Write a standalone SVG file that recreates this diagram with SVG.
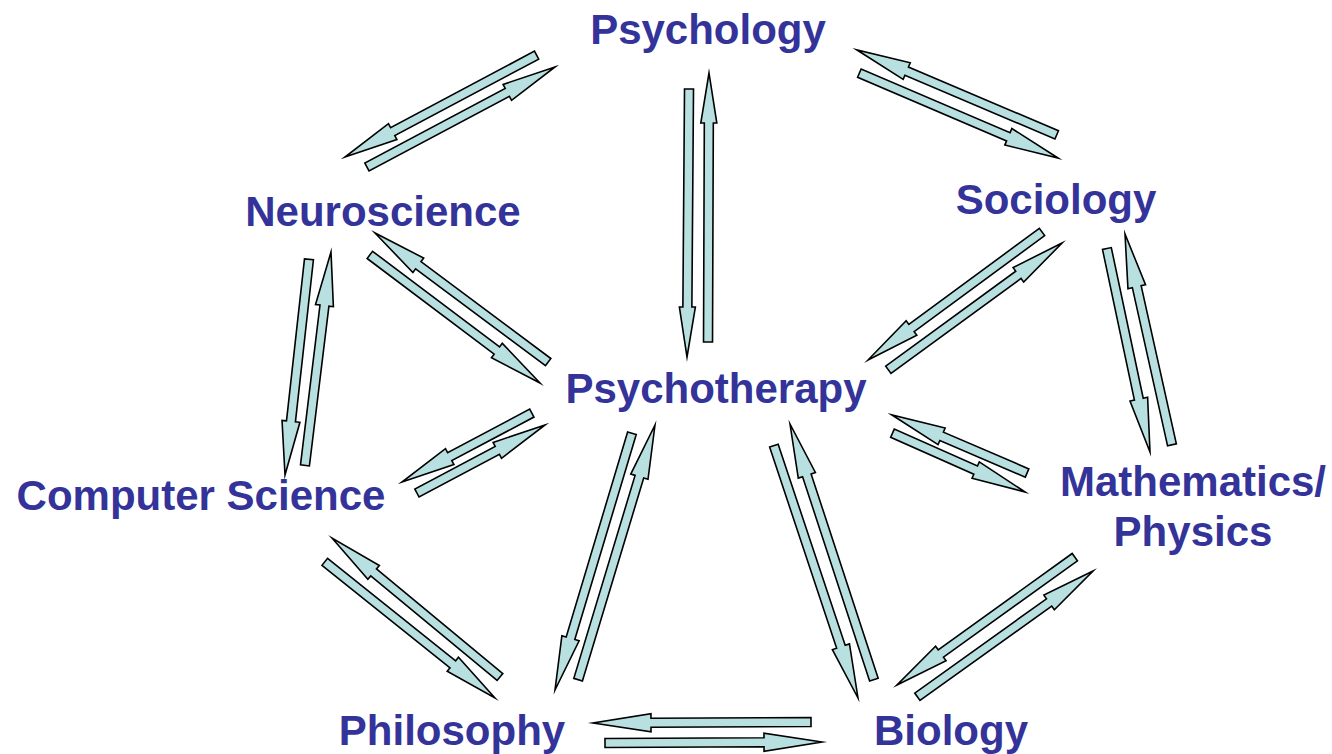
<svg xmlns="http://www.w3.org/2000/svg" width="1332" height="754" viewBox="0 0 1332 754">
<style>
.arr{fill:#b9e0e0;stroke:#000;stroke-width:1.6;stroke-linejoin:miter;stroke-miterlimit:10}
.lbl{font-family:"Liberation Sans",Arial,sans-serif;font-weight:bold;font-size:42px;fill:#333399;text-anchor:middle}
</style>
<rect width="1332" height="754" fill="#fff"/>
<g id="connectors">
<polygon class="arr" transform="translate(345,157) rotate(152.0)" points="0,0 -54,-9 -54,-4.5 -217,-4.5 -217,4.5 -54,4.5 -54,9"/>
<polygon class="arr" transform="translate(555,67) rotate(-28.0)" points="0,0 -54,-9 -54,-4.5 -213,-4.5 -213,4.5 -54,4.5 -54,9"/>
<polygon class="arr" transform="translate(687,357) rotate(90.43)" points="0,0 -50,-8 -50,-4.5 -268,-4.5 -268,4.5 -50,4.5 -50,8"/>
<polygon class="arr" transform="translate(709,73) rotate(-89.79)" points="0,0 -50,-8 -50,-4.5 -269,-4.5 -269,4.5 -50,4.5 -50,8"/>
<polygon class="arr" transform="translate(857,50) rotate(-156.97)" points="0,0 -54,-9 -54,-4.5 -217,-4.5 -217,4.5 -54,4.5 -54,9"/>
<polygon class="arr" transform="translate(1058,158) rotate(23.13)" points="0,0 -54,-9 -54,-4.5 -216,-4.5 -216,4.5 -54,4.5 -54,9"/>
<polygon class="arr" transform="translate(375,233) rotate(-143.29)" points="0,0 -54,-9 -54,-4.5 -216,-4.5 -216,4.5 -54,4.5 -54,9"/>
<polygon class="arr" transform="translate(540,383) rotate(36.98)" points="0,0 -54,-9 -54,-4.5 -213,-4.5 -213,4.5 -54,4.5 -54,9"/>
<polygon class="arr" transform="translate(285,475) rotate(96.34)" points="0,0 -54,-9 -54,-4.5 -217,-4.5 -217,4.5 -54,4.5 -54,9"/>
<polygon class="arr" transform="translate(331,252) rotate(-83.04)" points="0,0 -54,-9 -54,-4.5 -215,-4.5 -215,4.5 -54,4.5 -54,9"/>
<polygon class="arr" transform="translate(868,360) rotate(143.66)" points="0,0 -54,-9 -54,-4.5 -216,-4.5 -216,4.5 -54,4.5 -54,9"/>
<polygon class="arr" transform="translate(1062,243) rotate(-36.13)" points="0,0 -54,-9 -54,-4.5 -215,-4.5 -215,4.5 -54,4.5 -54,9"/>
<polygon class="arr" transform="translate(1150,452) rotate(78.04)" points="0,0 -54,-9 -54,-4.5 -208,-4.5 -208,4.5 -54,4.5 -54,9"/>
<polygon class="arr" transform="translate(1125,234) rotate(-102.56)" points="0,0 -54,-9 -54,-4.5 -216,-4.5 -216,4.5 -54,4.5 -54,9"/>
<polygon class="arr" transform="translate(892,415) rotate(-156.75)" points="0,0 -54,-9 -54,-4.5 -147,-4.5 -147,4.5 -54,4.5 -54,9"/>
<polygon class="arr" transform="translate(1025,492) rotate(23.92)" points="0,0 -54,-9 -54,-4.5 -145,-4.5 -145,4.5 -54,4.5 -54,9"/>
<polygon class="arr" transform="translate(402,482) rotate(152.04)" points="0,0 -54,-9 -54,-4.5 -147,-4.5 -147,4.5 -54,4.5 -54,9"/>
<polygon class="arr" transform="translate(545,425) rotate(-27.98)" points="0,0 -54,-9 -54,-4.5 -145,-4.5 -145,4.5 -54,4.5 -54,9"/>
<polygon class="arr" transform="translate(332,538) rotate(-140.39)" points="0,0 -54,-9 -54,-4.5 -218,-4.5 -218,4.5 -54,4.5 -54,9"/>
<polygon class="arr" transform="translate(495,698) rotate(38.66)" points="0,0 -54,-9 -54,-4.5 -218,-4.5 -218,4.5 -54,4.5 -54,9"/>
<polygon class="arr" transform="translate(555,690) rotate(106.68)" points="0,0 -54,-9 -54,-4.5 -268,-4.5 -268,4.5 -54,4.5 -54,9"/>
<polygon class="arr" transform="translate(655,425) rotate(-73.2)" points="0,0 -54,-9 -54,-4.5 -266,-4.5 -266,4.5 -54,4.5 -54,9"/>
<polygon class="arr" transform="translate(858,698) rotate(71.57)" points="0,0 -54,-9 -54,-4.5 -266,-4.5 -266,4.5 -54,4.5 -54,9"/>
<polygon class="arr" transform="translate(790,424) rotate(-108.17)" points="0,0 -54,-9 -54,-4.5 -269,-4.5 -269,4.5 -54,4.5 -54,9"/>
<polygon class="arr" transform="translate(897,685) rotate(144.28)" points="0,0 -54,-9 -54,-4.5 -219,-4.5 -219,4.5 -54,4.5 -54,9"/>
<polygon class="arr" transform="translate(1093,571) rotate(-35.6)" points="0,0 -54,-9 -54,-4.5 -216,-4.5 -216,4.5 -54,4.5 -54,9"/>
<polygon class="arr" transform="translate(593,723) rotate(179.74)" points="0,0 -58,-9 -58,-4.5 -218,-4.5 -218,4.5 -58,4.5 -58,9"/>
<polygon class="arr" transform="translate(822,742) rotate(-0.26)" points="0,0 -58,-9 -58,-4.5 -217,-4.5 -217,4.5 -58,4.5 -58,9"/>
</g>
<g id="psychology"><text class="lbl" x="708" y="44">Psychology</text></g>
<g id="neuroscience"><text class="lbl" x="383" y="226">Neuroscience</text></g>
<g id="sociology"><text class="lbl" x="1056" y="214">Sociology</text></g>
<g id="psychotherapy"><text class="lbl" x="716" y="403">Psychotherapy</text></g>
<g id="computer-science"><text class="lbl" x="201" y="510">Computer Science</text></g>
<g id="mathematics-physics"><text class="lbl" x="1193" y="496">Mathematics/</text><text class="lbl" x="1193" y="546">Physics</text></g>
<g id="philosophy"><text class="lbl" x="452" y="745">Philosophy</text></g>
<g id="biology"><text class="lbl" x="951" y="745">Biology</text></g>
</svg>
